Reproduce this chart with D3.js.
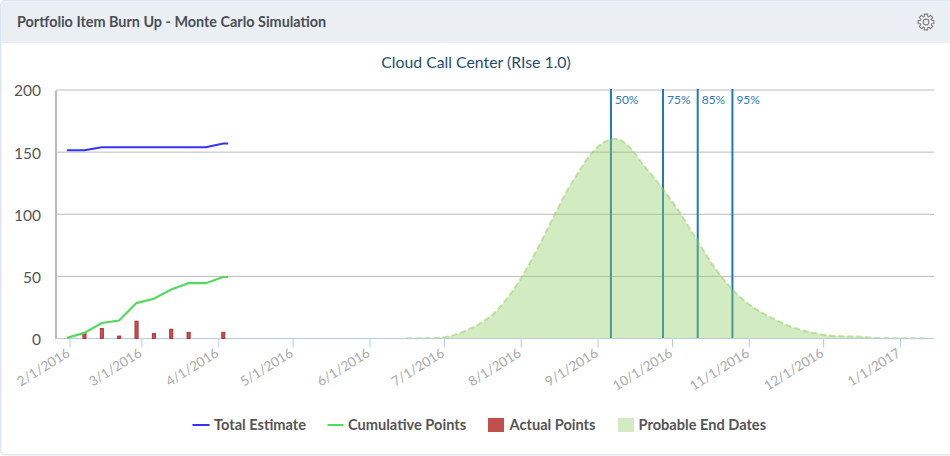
<!DOCTYPE html>
<html>
<head>
    <title>Portfolio Item Burn Up</title>
    <style>
        body {
            margin: 0;
            background: #fff;
            font-family: Lato, Arial, sans-serif;
        }
        svg {
            display: block;
        }
    </style>
    <script src="https://d3js.org/d3.v7.min.js"></script>
</head>
<body>
<script>
    var burnDates = ['1/31/2016', '2/7/2016', '2/14/2016', '2/21/2016', '2/28/2016', '3/6/2016', '3/13/2016', '3/20/2016', '3/27/2016', '4/3/2016', '4/5/2016'];
    var totalEstimate = [151.5, 151.5, 154, 154, 154, 154, 154, 154, 154, 157, 157];
    var cumulativePoints = [0.5, 4.5, 12.5, 14.5, 28.5, 32, 39.5, 44.5, 44.5, 49.5, 49.5];
    var actualDates = ['2/7/2016', '2/14/2016', '2/21/2016', '2/28/2016', '3/6/2016', '3/13/2016', '3/20/2016', '4/3/2016'];
    var actualPoints = [4.5, 8, 2, 14, 4, 7.5, 5, 5];
    var endDates = ['6/16/2016', '6/21/2016', '6/26/2016', '7/1/2016', '7/6/2016', '7/11/2016', '7/16/2016', '7/21/2016', '7/26/2016', '7/31/2016',
        '8/5/2016', '8/10/2016', '8/15/2016', '8/20/2016', '8/25/2016', '8/30/2016', '9/4/2016', '9/9/2016', '9/14/2016', '9/19/2016',
        '9/24/2016', '9/29/2016', '10/4/2016', '10/9/2016', '10/14/2016', '10/19/2016', '10/24/2016', '10/29/2016', '11/3/2016', '11/8/2016',
        '11/13/2016', '11/18/2016', '11/23/2016', '11/28/2016', '12/3/2016', '12/8/2016', '12/13/2016', '12/18/2016', '12/23/2016', '12/28/2016',
        '1/2/2017', '1/7/2017', '1/12/2017'];
    var endValues = [0.2, 0.3, 0.5, 1, 3.5, 7.5, 12.5, 20, 31, 45,
        62, 81, 101, 120, 136, 150, 158.5, 160.5, 154, 141,
        129, 116, 102, 86, 70, 55, 42.5, 32.5, 25, 19,
        14, 9.5, 6.5, 4.2, 2.6, 2, 1.7, 1.2, 0.5, 0.3,
        0.2, 0.2, 0.1];
    var percentDates = ['9/6/2016', '9/27/2016', '10/11/2016', '10/25/2016'];
    var percentLabels = ['50%', '75%', '85%', '95%'];
    var xTickLabels = ['2/1/2016', '3/1/2016', '4/1/2016', '5/1/2016', '6/1/2016', '7/1/2016', '8/1/2016', '9/1/2016', '10/1/2016', '11/1/2016', '12/1/2016', '1/1/2017'];
    var yTickValues = [0, 50, 100, 150, 200];
    var legendNames = ['Total Estimate', 'Cumulative Points', 'Actual Points', 'Probable End Dates'];

    var parseDate = d3.utcParse('%m/%d/%Y');
    var width = 950, height = 456;
    var plotLeft = 56, plotRight = 934, plotTop = 90, plotBottom = 338.5;

    var svg = d3.select('body').append('svg').attr('width', width).attr('height', height);

    // panel + header
    svg.append('rect').attr('x', 0.75).attr('y', 0.75).attr('width', width + 10).attr('height', height - 2).attr('rx', 4)
        .attr('fill', '#fff').attr('stroke', '#dfe5ee').attr('stroke-width', 1.5);
    svg.append('rect').attr('x', 1.5).attr('y', 1.5).attr('width', width).attr('height', 41.5).attr('fill', '#ebeef2');
    svg.append('text').attr('x', 17).attr('y', 27).attr('fill', '#4a4f57')
        .style('font-size', '14.4px').style('font-weight', 700)
        .text('Portfolio Item Burn Up - Monte Carlo Simulation');

    // gear icon
    var gearPts = [];
    d3.range(8).forEach(function (i) {
        var a = i * Math.PI / 4;
        [[-0.3, 5.8], [-0.2, 8], [0.2, 8], [0.3, 5.8]].forEach(function (p) {
            gearPts.push([p[1] * Math.cos(a + p[0]), p[1] * Math.sin(a + p[0])]);
        });
    });
    var gear = svg.append('g').attr('transform', 'translate(926,22)').attr('fill', 'none').attr('stroke', '#808080').attr('stroke-width', 1.1);
    gear.append('path').attr('d', d3.line().curve(d3.curveLinearClosed)(gearPts));
    gear.append('circle').attr('r', 2.9);

    svg.append('text').attr('x', 476).attr('y', 68).attr('text-anchor', 'middle').attr('fill', '#1f4e70')
        .style('font-size', '15.8px').text('Cloud Call Center (RIse 1.0)');

    var x = d3.scaleUtc()
        .domain([parseDate('2/1/2016'), parseDate('1/1/2017')])
        .range([69.5, 900]);
    var y = d3.scaleLinear().domain([0, 200]).range([plotBottom, plotTop]);

    // gridlines and value axis
    var yAxis = svg.append('g').attr('transform', 'translate(' + plotLeft + ',0)')
        .call(d3.axisLeft(y).tickValues(yTickValues).tickSize(0).tickPadding(15));
    yAxis.select('.domain').attr('stroke', '#777').attr('stroke-width', 1).attr('transform', 'translate(-0.5,0)');
    yAxis.selectAll('text').attr('fill', '#555').attr('dy', '0.38em').style('font-size', '15.5px').style('font-family', 'Lato, Arial, sans-serif');
    svg.append('g').selectAll('line').data(yTickValues.filter(function (d) { return d > 0; })).enter().append('line')
        .attr('x1', plotLeft).attr('x2', plotRight)
        .attr('y1', function (d) { return y(d); }).attr('y2', function (d) { return y(d); })
        .attr('stroke', '#bbb').attr('stroke-width', 1);

    // percentile lines, under the area
    svg.append('g').selectAll('line').data(percentDates).enter().append('line')
        .attr('x1', function (d) { return x(parseDate(d)) + 1; }).attr('x2', function (d) { return x(parseDate(d)) + 1; })
        .attr('y1', plotTop - 1).attr('y2', plotBottom)
        .attr('stroke', '#1f78b8').attr('stroke-width', 2);
    svg.append('g').selectAll('text').data(percentDates).enter().append('text')
        .attr('x', function (d) { return x(parseDate(d)) + 5; })
        .attr('y', 104)
        .attr('fill', '#2e7ab5')
        .style('font-size', '12px')
        .text(function (d, i) { return percentLabels[i]; });

    // probable end dates
    var endData = endDates.map(function (d, i) { return { date: parseDate(d), value: endValues[i] }; });
    svg.append('path').datum(endData)
        .attr('d', d3.area().curve(d3.curveCatmullRom)
            .x(function (d) { return x(d.date); })
            .y0(plotBottom)
            .y1(function (d) { return y(d.value); }))
        .attr('fill', '#91cd61').attr('fill-opacity', 0.4);
    svg.append('path').datum(endData)
        .attr('d', d3.line().curve(d3.curveCatmullRom)
            .x(function (d) { return x(d.date); })
            .y(function (d) { return y(d.value); }))
        .attr('fill', 'none').attr('stroke', '#91cd61').attr('stroke-opacity', 0.5)
        .attr('stroke-width', 2).attr('stroke-dasharray', '6,3');

    // date axis
    var xAxis = svg.append('g').attr('transform', 'translate(0,' + plotBottom + ')')
        .call(d3.axisBottom(x).tickValues(xTickLabels.map(parseDate)).tickFormat(d3.utcFormat('%-m/%-d/%Y')).tickSize(9).tickSizeOuter(0));
    xAxis.select('.domain').attr('d', 'M' + plotLeft + ',0H' + plotRight).attr('stroke', '#b8cbdd');
    xAxis.selectAll('line').attr('stroke', '#b8cbdd');
    xAxis.selectAll('text')
        .attr('fill', '#aaa')
        .attr('text-anchor', 'end')
        .attr('dy', 0).attr('y', 0)
        .attr('transform', 'translate(1,17) rotate(-32)')
        .style('font-size', '13.5px')
        .style('font-family', 'Lato, Arial, sans-serif');

    // actual points
    svg.append('g').selectAll('rect').data(actualDates).enter().append('rect')
        .attr('x', function (d) { return x(parseDate(d)) - 1.5; })
        .attr('y', function (d, i) { return y(actualPoints[i]); })
        .attr('width', 3.2)
        .attr('height', function (d, i) { return plotBottom - y(actualPoints[i]); })
        .attr('fill', '#c0504d').attr('stroke', '#b0252f').attr('stroke-width', 0.8);

    // burn up lines
    var burnLine = d3.line()
        .x(function (d, i) { return x(parseDate(burnDates[i])); })
        .y(function (d) { return y(d); });
    svg.append('path').attr('d', burnLine(totalEstimate)).attr('fill', 'none').attr('stroke', '#3333ff').attr('stroke-width', 2);
    svg.append('path').attr('d', burnLine(cumulativePoints)).attr('fill', 'none').attr('stroke', '#55d95f').attr('stroke-width', 2.2);

    // legend
    var legendX = [192.5, 327.5, 488, 618];
    var legendTextX = [214, 348, 509.5, 638.5];
    var legendY = 425;
    var legendKeyW = [17, 16, 16, 16];
    var legend = svg.append('g').selectAll('g').data(legendNames).enter().append('g');
    legend.filter(function (d, i) { return i < 2; }).append('line')
        .attr('x1', function (d, i) { return legendX[i]; })
        .attr('x2', function (d, i) { return legendX[i] + legendKeyW[i]; })
        .attr('y1', legendY).attr('y2', legendY)
        .attr('stroke', function (d, i) { return ['#3333ff', '#55d95f'][i]; }).attr('stroke-width', 2);
    legend.filter(function (d, i) { return i >= 2; }).append('rect')
        .attr('x', function (d, i) { return legendX[i + 2]; })
        .attr('y', legendY - 7).attr('width', 16).attr('height', 14)
        .attr('fill', function (d, i) { return ['#c0504d', '#d3ebc0'][i]; });
    legend.append('text')
        .attr('x', function (d, i) { return legendTextX[i]; })
        .attr('y', legendY + 5)
        .attr('fill', '#555')
        .style('font-size', '14.6px').style('font-weight', 700)
        .text(function (d) { return d; });
</script>
</body>
</html>
